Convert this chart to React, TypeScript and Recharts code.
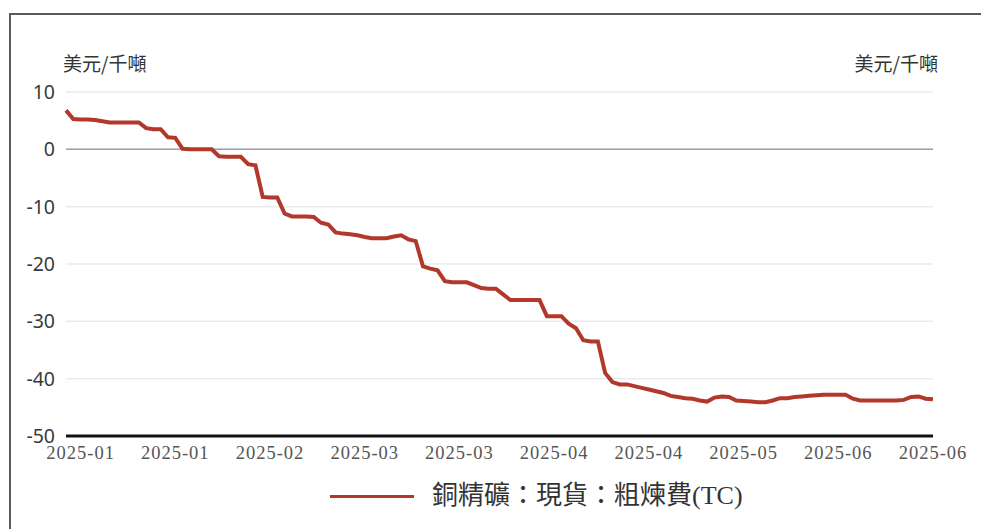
import React from 'react';
import { LineChart, Line, XAxis, YAxis, CartesianGrid, ReferenceLine } from 'recharts';

// Copper concentrate spot TC, one value per trading day (Jan -> Jun 2025)
const TC_VALUES = [
  6.8, 5.3, 5.2, 5.2, 5.1, 4.9, 4.7, 4.7, 4.7, 4.7,
  4.7, 3.7, 3.5, 3.5, 2.1, 2.0, 0.1, 0, 0, 0,
  0, -1.2, -1.3, -1.3, -1.3, -2.6, -2.8, -8.3, -8.4, -8.4,
  -11.2, -11.7, -11.7, -11.7, -11.8, -12.8, -13.1, -14.5, -14.7, -14.8,
  -15.0, -15.3, -15.5, -15.5, -15.5, -15.2, -15.0, -15.7, -16.0, -20.4,
  -20.8, -21.1, -23.0, -23.2, -23.2, -23.2, -23.7, -24.2, -24.3, -24.3,
  -25.3, -26.3, -26.3, -26.3, -26.3, -26.3, -29.1, -29.1, -29.1, -30.4,
  -31.2, -33.3, -33.5, -33.5, -39.0, -40.6, -41.0, -41.0, -41.3, -41.6,
  -41.9, -42.2, -42.5, -43.0, -43.2, -43.4, -43.5, -43.8, -44.0, -43.3,
  -43.1, -43.2, -43.8, -43.9, -44.0, -44.1, -44.1, -43.8, -43.4, -43.4,
  -43.2, -43.1, -43.0, -42.9, -42.8, -42.8, -42.8, -42.8, -43.5, -43.8,
  -43.8, -43.8, -43.8, -43.8, -43.8, -43.7, -43.2, -43.1, -43.5, -43.6,
];

const TICK_POS = [2, 15, 28, 41, 54, 67, 80, 93, 106, 119];
const TICK_LABELS = [
  '2025-01', '2025-01', '2025-02', '2025-03', '2025-03',
  '2025-04', '2025-04', '2025-05', '2025-06', '2025-06',
];
const Y_TICKS = [-50, -40, -30, -20, -10, 0, 10];

const SERIES_NAME = '銅精礦：現貨：粗煉費(TC)';
const UNIT = '美元/千噸';
const RED = '#b2382c';

const data = TC_VALUES.map((v, i) => ({ idx: i, tc: v }));

const tickFmt = (v: number) => {
  const k = TICK_POS.indexOf(v);
  return k >= 0 ? TICK_LABELS[k] : '';
};

const yTickStyle = { fontSize: 19.5, fill: '#3a3a3a', fontFamily: '"Noto Sans", sans-serif' };
const unitStyle: React.CSSProperties = {
  position: 'absolute', top: 49, fontSize: 19, color: '#333', fontFamily: '"Noto Sans CJK TC", sans-serif',
};

export default function App() {
  return (
    <div style={{ position: 'fixed', left: 0, top: 0, width: 981, height: 529, background: '#fff', overflow: 'hidden' }}>
      <div
        style={{
          position: 'absolute', left: 9, top: 13, width: 1000, height: 600,
          borderLeft: '2px solid #5a5a5a', borderTop: '2px solid #5a5a5a',
        }}
      />
      <div style={{ ...unitStyle, left: 63 }}>{UNIT}</div>
      <div style={{ ...unitStyle, right: 43 }}>{UNIT}</div>
      <div style={{ position: 'absolute', left: 0, top: 0 }}>
        <LineChart width={981} height={529} data={data} margin={{ top: 92, right: 0, bottom: 63, left: 0 }}>
          <CartesianGrid vertical={false} stroke="#ebebeb" strokeWidth={1.5} yAxisId="left" />
          <XAxis
            dataKey="idx"
            type="number"
            domain={[0, 119]}
            ticks={TICK_POS}
            tickFormatter={tickFmt}
            interval={0}
            height={30}
            axisLine={{ stroke: '#111', strokeWidth: 3 }}
            tickLine={false}
            tickSize={0}
            tickMargin={10}
            tick={{ fontSize: 18.5, fill: '#555', fontFamily: '"Liberation Serif", serif', letterSpacing: 1 }}
          />
          <YAxis
            yAxisId="left"
            orientation="left"
            width={66}
            domain={[-50, 10]}
            ticks={Y_TICKS}
            axisLine={false}
            tickLine={false}
            tickSize={0}
            tickMargin={11}
            tick={yTickStyle}
          />
          <YAxis
            yAxisId="right"
            orientation="right"
            width={48}
            domain={[-50, 10]}
            ticks={Y_TICKS}
            axisLine={false}
            tickLine={false}
            tickSize={0}
            tickMargin={14}
            tick={{ ...yTickStyle, textAnchor: 'start' }}
          />
          <ReferenceLine y={0} yAxisId="left" stroke="#a0a0a0" strokeWidth={1.5} />
          <Line
            yAxisId="left"
            type="linear"
            dataKey="tc"
            name={SERIES_NAME}
            stroke={RED}
            strokeWidth={4}
            dot={false}
            isAnimationActive={false}
          />
        </LineChart>
      </div>
      <div style={{ position: 'absolute', left: 330, top: 480, display: 'flex', alignItems: 'center' }}>
        <div style={{ width: 84, height: 3, background: RED }} />
        <span
          style={{
            marginLeft: 18, fontSize: 26, color: '#333', lineHeight: '32px',
            fontFamily: '"Liberation Serif", "Noto Sans CJK TC", serif',
          }}
        >
          {SERIES_NAME}
        </span>
      </div>
    </div>
  );
}
